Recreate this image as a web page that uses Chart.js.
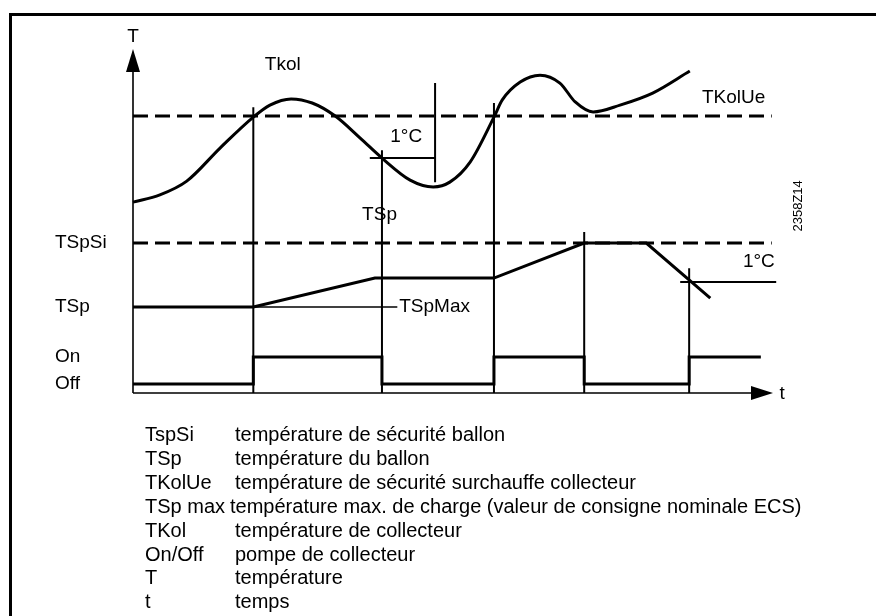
<!DOCTYPE html>
<html lang="fr">
<head>
<meta charset="utf-8">
<title>Protection surchauffe collecteur</title>
<script src="https://cdn.jsdelivr.net/npm/chart.js@4/dist/chart.umd.min.js"></script>
<style>
  html, body { margin: 0; padding: 0; background: #fff; }
  #wrap { position: relative; width: 876px; height: 616px; overflow: hidden; background: #fff; }
  #frame { position: absolute; left: 9px; top: 13px; width: 900px; height: 700px;
           border-left: 3px solid #000; border-top: 3px solid #000; box-sizing: border-box; }
  #plot { position: absolute; left: 0; top: 0; }
  #key { position: absolute; left: 145px; top: 423px; color: #000;
         font: 20px "Liberation Sans", Arial, sans-serif; line-height: 23.9px; }
  #key div { white-space: nowrap; }
  #key .term { display: inline-block; min-width: 90px; }
</style>
</head>
<body>
<div id="wrap">
  <div id="frame"></div>
  <canvas id="plot" width="876" height="616"></canvas>
  <div id="key"></div>
</div>
<script>
// Collector temperature TKol over time (time in arbitrary units 0..100, temperature 0..100)
const tkolTime = [0, 4.2, 8.4, 13.6, 18.8, 21.4, 24.7, 28.0, 31.6, 35.5, 38.9, 43.3, 46.9, 49.5, 52.7, 56.4, 57.7, 60.5, 63.6, 66.7, 69.1, 71.9, 76.1, 81.2, 87.0];
const tkolTemp = [55.5, 57.6, 61.6, 71.2, 80.2, 83.7, 85.5, 84.3, 80.5, 74.1, 68.3, 61.9, 59.9, 61.3, 67.2, 80.2, 85.2, 90.4, 92.4, 90.1, 84.6, 81.7, 83.7, 87.2, 93.6];

// Storage tank temperature TSp
const storageTime = [0, 18.8, 37.8, 56.4, 70.5, 80.2, 90.2];
const storageTemp = [25, 25, 33.4, 33.4, 43.6, 43.6, 27.6];

// Collector pump state (each state holds until the next switching time)
const pumpTime = [0, 18.8, 38.9, 56.4, 70.5, 86.9, 98.1];
const pumpState = ['Off', 'On', 'Off', 'On', 'Off', 'On', 'On'];
const pumpLevel = { On: 10.5, Off: 2.6 };

// Limit values
const tkolUe = 80.5;      // collector overheat protection
const tspSi = 43.6;       // storage tank safety temperature
const tspMax = 25;        // max. charging temperature
const limitEnd = 99.8;
const tspMaxLeaderEnd = 41.3;

// Switching instants and the height of their marker lines
const switchTime = [18.8, 38.9, 56.4, 70.5, 86.9];
const switchTop = [83.1, 70.6, 84.3, 46.8, 36.3];

// 1 °C hysteresis marks
const hystUpperLevel = 68.3, hystUpperFrom = 37.0, hystUpperTo = 47.3;
const hystUpperBarTime = 47.2, hystUpperBarLow = 61.3, hystUpperBarHigh = 90.1;
const hystLowerLevel = 32.3, hystLowerFrom = 85.5, hystLowerTo = 100.5;

// Key below the diagram
const keyTerms = ['TspSi', 'TSp', 'TKolUe', 'TSp max', 'TKol', 'On/Off', 'T', 't'];
const keyTexts = [
  'température de sécurité ballon',
  'température du ballon',
  'température de sécurité surchauffe collecteur',
  'température max. de charge (valeur de consigne nominale ECS)',
  'température de collecteur',
  'pompe de collecteur',
  'température',
  'temps'
];

const key = document.getElementById('key');
keyTerms.forEach((term, i) => {
  const row = document.createElement('div');
  const t = document.createElement('span');
  t.className = 'term';
  t.textContent = term;
  if (term.includes(' ')) { t.style.minWidth = '0'; t.style.marginRight = '5px'; }
  row.appendChild(t);
  row.appendChild(document.createTextNode(keyTexts[i]));
  key.appendChild(row);
});

const pts = (xs, ys) => xs.map((x, i) => ({ x, y: ys[i] }));
const gap = { x: NaN, y: null };

const segments = (list) => {
  const out = [];
  list.forEach((seg, i) => { if (i) out.push(gap); out.push(...seg); });
  return out;
};

const switchLines = segments(switchTime.map((t, i) => [{ x: t, y: 0 }, { x: t, y: switchTop[i] }]));
const hystLines = segments([
  [{ x: hystUpperFrom, y: hystUpperLevel }, { x: hystUpperTo, y: hystUpperLevel }],
  [{ x: hystUpperBarTime, y: hystUpperBarLow }, { x: hystUpperBarTime, y: hystUpperBarHigh }],
  [{ x: hystLowerFrom, y: hystLowerLevel }, { x: hystLowerTo, y: hystLowerLevel }]
]);

const textFont = '19px "Liberation Sans", Arial, sans-serif';
const labels = [
  { text: 'T', x: 0, y: 103.5, align: 'center' },
  { text: 'Tkol', x: 20.6, y: 95.3 },
  { text: '1°C', x: 40.2, y: 74.4 },
  { text: 'TKolUe', x: 88.9, y: 85.8 },
  { text: 'TSp', x: 35.8, y: 51.7 },
  { text: 'TSpMax', x: 41.6, y: tspMax },
  { text: '1°C', x: 95.3, y: 38.1 },
  { text: 't', x: 101.0, y: -0.3 },
  { text: 'TSpSi', x: -12.2, y: tspSi },
  { text: 'TSp', x: -12.2, y: tspMax },
  { text: 'On', x: -12.2, y: pumpLevel.On },
  { text: 'Off', x: -12.2, y: 2.6 }
];

const diagramFrame = {
  id: 'diagramFrame',
  beforeDatasetsDraw(chart) {
    const { ctx, scales: { x, y } } = chart;
    const x0 = x.getPixelForValue(0), y0 = y.getPixelForValue(0);
    const yTip = y.getPixelForValue(100), xTip = x.getPixelForValue(100);
    ctx.save();
    ctx.strokeStyle = '#000';
    ctx.fillStyle = '#000';
    ctx.lineWidth = 1.6;
    ctx.beginPath();
    ctx.moveTo(x0, y0); ctx.lineTo(x0, yTip + 20);
    ctx.moveTo(x0, y0); ctx.lineTo(xTip - 20, y0);
    ctx.stroke();
    ctx.beginPath();
    ctx.moveTo(x0, yTip); ctx.lineTo(x0 - 7, yTip + 23); ctx.lineTo(x0 + 7, yTip + 23); ctx.closePath();
    ctx.fill();
    ctx.beginPath();
    ctx.moveTo(xTip, y0); ctx.lineTo(xTip - 22, y0 - 7); ctx.lineTo(xTip - 22, y0 + 7); ctx.closePath();
    ctx.fill();
    ctx.restore();
  },
  afterDatasetsDraw(chart) {
    const { ctx, scales: { x, y } } = chart;
    ctx.save();
    ctx.fillStyle = '#000';
    ctx.font = textFont;
    ctx.textBaseline = 'middle';
    labels.forEach(l => {
      ctx.textAlign = l.align || 'left';
      ctx.fillText(l.text, x.getPixelForValue(l.x), y.getPixelForValue(l.y));
    });
    // drawing number, set vertically at the right margin
    ctx.translate(x.getPixelForValue(103.9), y.getPixelForValue(54.4));
    ctx.rotate(-Math.PI / 2);
    ctx.font = '13px "Liberation Sans", Arial, sans-serif';
    ctx.textAlign = 'center';
    ctx.fillText('2358Z14', 0, 0);
    ctx.restore();
  }
};

const line = (data, extra) => Object.assign({
  data, showLine: true, pointRadius: 0, borderColor: '#000', borderWidth: 3,
  tension: 0, fill: false, clip: false, spanGaps: false,
  borderCapStyle: 'butt', borderJoinStyle: 'miter'
}, extra);

new Chart(document.getElementById('plot'), {
  type: 'scatter',
  data: {
    datasets: [
      line(pts([0, limitEnd], [tkolUe, tkolUe]), { borderDash: [15, 7] }),
      line(pts([0, limitEnd], [tspSi, tspSi]), { borderDash: [15, 7] }),
      line(switchLines, { borderWidth: 2 }),
      line(hystLines, { borderWidth: 2 }),
      line(pts([storageTime[1], tspMaxLeaderEnd], [tspMax, tspMax]), { borderWidth: 1.6 }),
      line(pts(tkolTime, tkolTemp), { cubicInterpolationMode: 'monotone', borderJoinStyle: 'round' }),
      line(pts(storageTime, storageTemp)),
      line(pts(pumpTime, pumpState.map(s => pumpLevel[s])), { stepped: 'before' })
    ]
  },
  options: {
    responsive: false,
    animation: false,
    devicePixelRatio: 1,
    events: [],
    layout: { padding: { left: 133, right: 103, top: 49, bottom: 223 } },
    scales: {
      x: { type: 'linear', min: 0, max: 100, display: false },
      y: { type: 'linear', min: 0, max: 100, display: false }
    },
    plugins: { legend: { display: false }, tooltip: { enabled: false } }
  },
  plugins: [diagramFrame]
});
</script>
</body>
</html>
